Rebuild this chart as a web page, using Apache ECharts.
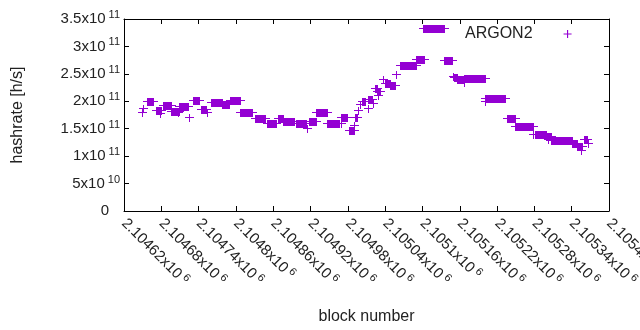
<!DOCTYPE html>
<html>
<head>
<meta charset="UTF-8">
<title>ARGON2 hashrate</title>
<script src="https://cdn.jsdelivr.net/npm/echarts@6/dist/echarts.min.js"></script>
<style>
  html, body { margin: 0; padding: 0; background: #fff; }
  #wrap { position: relative; width: 640px; height: 330px; }
  #chart, #frame { position: absolute; left: 0; top: 0; width: 640px; height: 330px; }
  #frame { pointer-events: none; }
</style>
</head>
<body>
<div id="wrap">
  <div id="chart"></div>
  <div id="frame"></div>
</div>
<script>
// runs of blocks with the same hashrate (start == end is a single block)
var blockStart = [2104649, 2104652, 2104657, 2104673, 2104678, 2104683, 2104697, 2104707, 2104710, 2104726,
  2104731, 2104744, 2104754, 2104760, 2104779, 2104792, 2104808, 2104831, 2104850, 2104868,
  2104876, 2104897, 2104915, 2104918, 2104930, 2104948, 2104969, 2104970, 2104982, 2104990,
  2104992, 2104997, 2105000, 2105003, 2105013, 2105014, 2105021, 2105024, 2105027, 2105029,
  2105037, 2105040, 2105048, 2105059, 2105064, 2105090, 2105102, 2105135, 2105150, 2105151,
  2105157, 2105167, 2105168, 2105201, 2105202, 2105236, 2105250, 2105278, 2105281, 2105299,
  2105302, 2105307, 2105313, 2105342, 2105350, 2105356, 2105361, 2105367];
var blockEnd = [2104649, 2104652, 2104668, 2104680, 2104678, 2104696, 2104710, 2104707, 2104723, 2104726,
  2104742, 2104752, 2104754, 2104778, 2104790, 2104807, 2104827, 2104848, 2104866, 2104876,
  2104895, 2104914, 2104915, 2104929, 2104947, 2104966, 2104980, 2104970, 2104990, 2104990,
  2104996, 2104997, 2105000, 2105009, 2105013, 2105020, 2105021, 2105027, 2105033, 2105029,
  2105037, 2105048, 2105056, 2105059, 2105090, 2105104, 2105136, 2105149, 2105150, 2105157,
  2105168, 2105167, 2105201, 2105201, 2105234, 2105250, 2105279, 2105278, 2105299, 2105307,
  2105302, 2105313, 2105342, 2105350, 2105358, 2105356, 2105366, 2105367];
var hashrate = [1.79e11, 1.86e11, 1.99e11, 1.84e11, 1.77e11, 1.92e11, 1.82e11, 1.79e11, 1.90e11, 1.71e11,
  2.01e11, 1.85e11, 1.79e11, 1.97e11, 1.94e11, 2.01e11, 1.80e11, 1.69e11, 1.60e11, 1.68e11,
  1.63e11, 1.60e11, 1.51e11, 1.64e11, 1.79e11, 1.59e11, 1.71e11, 1.60e11, 1.46e11, 1.56e11,
  1.70e11, 1.84e11, 1.95e11, 2.00e11, 1.87e11, 2.04e11, 1.96e11, 2.23e11, 2.18e11, 2.11e11,
  2.39e11, 2.32e11, 2.29e11, 2.49e11, 2.65e11, 2.77e11, 3.33e11, 2.75e11, 2.46e11, 2.44e11,
  2.39e11, 2.34e11, 2.41e11, 1.99e11, 2.05e11, 1.69e11, 1.54e11, 1.40e11, 1.40e11, 1.35e11,
  1.31e11, 1.28e11, 1.29e11, 1.23e11, 1.18e11, 1.11e11, 1.31e11, 1.23e11];

// axis ranges and tick labels (mantissa + exponent)
var xMin = 2104620, xMax = 2105400, xStep = 60;
var yMin = 0, yMax = 3.5e11, yStep = 5e10;
var xTickText = ['2.10462', '2.10468', '2.10474', '2.1048', '2.10486', '2.10492', '2.10498',
  '2.10504', '2.1051', '2.10516', '2.10522', '2.10528', '2.10534', '2.1054'];
var xTickPow = '6';
var yTickText = ['0', '5x10', '1x10', '1.5x10', '2x10', '2.5x10', '3x10', '3.5x10'];
var yTickPow = ['', '10', '11', '11', '11', '11', '11', '11'];

var purple = '#9400d3';
var font = 'Liberation Sans, Arial, sans-serif';
var gridBox = { left: 124, right: 31, top: 19, bottom: 119 };

var data = blockStart.map(function (s, i) { return [s, blockEnd[i], hashrate[i]]; });

var rich = {
  m: { fontSize: 15, fontFamily: font, color: '#222' },
  p: { fontSize: 11, fontFamily: font, color: '#222', padding: [0, 0, 8, 3] },
  z: { fontSize: 15, width: 11 }
};

var chart = echarts.init(document.getElementById('chart'));
try {
  chart.setOption({
    animation: false,
    grid: { left: gridBox.left, right: gridBox.right, top: gridBox.top, bottom: gridBox.bottom, outerBoundsMode: 'none' },
    legend: {
      data: [{ name: 'ARGON2', icon: 'path://M3,0h1v3h3v1h-3v3h-1v-3h-3v-1h3z' }],
      align: 'right',
      left: 460,
      top: 21,
      itemWidth: 60,
      itemHeight: 8,
      textStyle: { fontSize: 16, color: '#222', fontFamily: font }
    },
    xAxis: {
      type: 'value', min: xMin, max: xMax, interval: xStep,
      name: 'block number', nameLocation: 'middle', nameGap: 98,
      nameTextStyle: { fontSize: 16, color: '#222', fontFamily: font },
      axisLine: { show: false, onZero: false },
      axisTick: { show: false },
      splitLine: { show: false },
      axisLabel: {
        rotate: -45, margin: 10, showMaxLabel: true, color: '#222',
        formatter: function (v) {
          var t = xTickText[Math.round((v - xMin) / xStep)];
          return '{m|' + t + 'x10}{p|' + xTickPow + '}';
        },
        rich: rich
      }
    },
    yAxis: {
      type: 'value', min: yMin, max: yMax, interval: yStep,
      name: 'hashrate [h/s]', nameLocation: 'middle', nameGap: 98, nameRotate: 90,
      nameTextStyle: { fontSize: 16, color: '#222', fontFamily: font },
      axisLine: { show: false, onZero: false },
      axisTick: { show: false },
      splitLine: { show: false },
      axisLabel: {
        margin: 4,
        formatter: function (v) {
          var i = Math.round(v / yStep);
          if (!yTickPow[i]) return '{m|' + yTickText[i] + '}{z| }';
          return '{m|' + yTickText[i] + '}{p|' + yTickPow[i] + '}';
        },
        rich: rich
      }
    },
    series: [{
      name: 'ARGON2',
      type: 'custom',
      itemStyle: { color: purple },
      encode: { x: [0, 1], y: 2 },
      data: data,
      renderItem: function (params, api) {
        var a = api.coord([api.value(0), api.value(2)]);
        var b = api.coord([api.value(1), api.value(2)]);
        var x0 = Math.floor(a[0]), x1 = Math.floor(b[0]), y = Math.floor(a[1]);
        return {
          type: 'group',
          children: [
            { type: 'rect', shape: { x: x0, y: y - 3, width: x1 - x0 + 1, height: 8 }, style: { fill: purple } },
            { type: 'rect', shape: { x: x0 - 4, y: y, width: x1 - x0 + 9, height: 1 }, style: { fill: purple } }
          ]
        };
      }
    }]
  });
} catch (e) {
  console.error(e);
}

// gnuplot style box: axes on all four sides with inward ticks, no labels,
// in a second transparent chart laid over the first with the same grid
var frame = echarts.init(document.getElementById('frame'));
function edgeAxis(pos, min, max, step) {
  return {
    type: 'value', position: pos, min: min, max: max, interval: step,
    axisLine: { show: true, onZero: false, lineStyle: { color: '#000', width: 1 } },
    axisTick: { show: true, inside: true, length: 5, lineStyle: { color: '#000', width: 1 } },
    axisLabel: { show: false },
    splitLine: { show: false }
  };
}
frame.setOption({
  animation: false,
  backgroundColor: 'transparent',
  grid: { left: gridBox.left, right: gridBox.right, top: gridBox.top, bottom: gridBox.bottom },
  xAxis: [edgeAxis('bottom', xMin, xMax, xStep), edgeAxis('top', xMin, xMax, xStep)],
  yAxis: [edgeAxis('left', yMin, yMax, yStep), edgeAxis('right', yMin, yMax, yStep)]
});
</script>
</body>
</html>
